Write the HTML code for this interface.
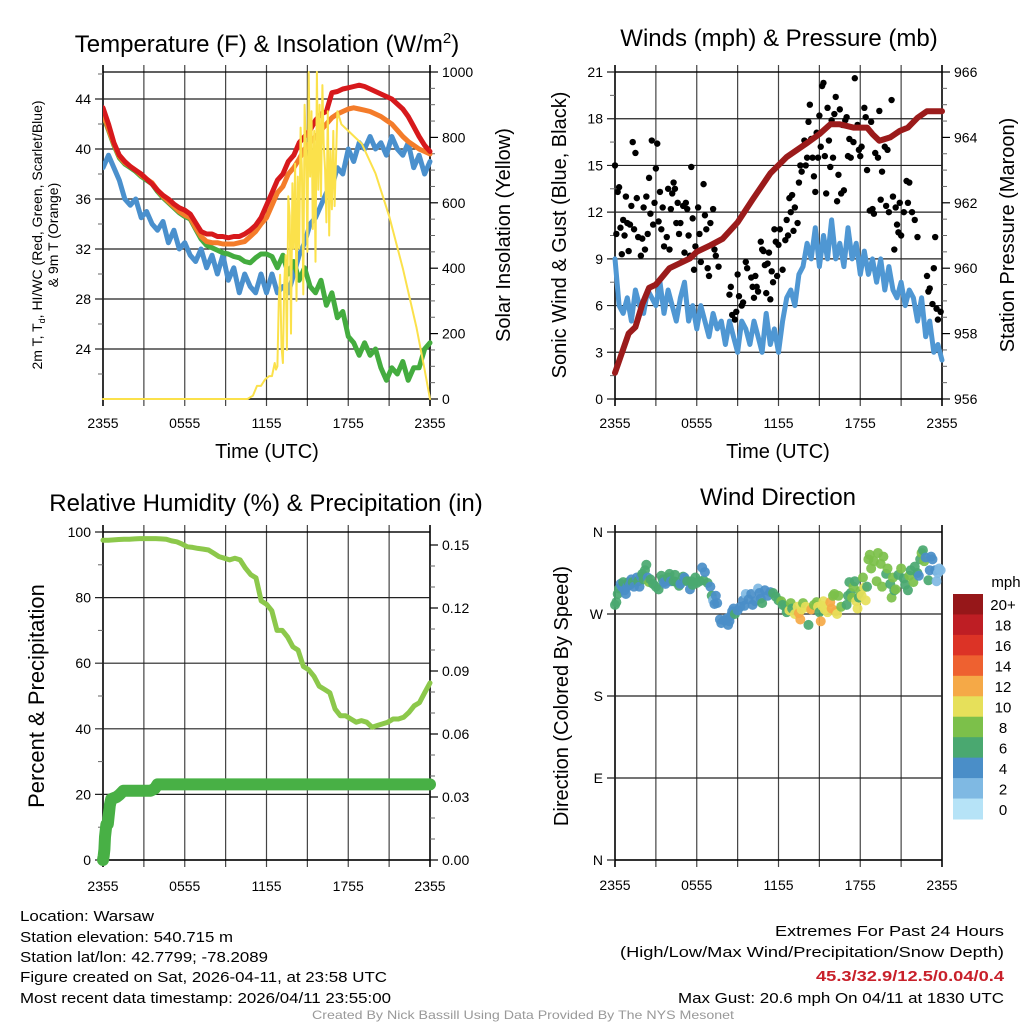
<!DOCTYPE html>
<html><head><meta charset="utf-8"><style>
html,body{margin:0;padding:0;background:#fff;}
svg{display:block;font-family:"Liberation Sans",sans-serif;}
</style></head><body>
<svg id="chart" width="1024" height="1024" viewBox="0 0 1024 1024" xmlns="http://www.w3.org/2000/svg">
<rect width="1024" height="1024" fill="#fff"/>
<g id="grids"></g>
<g id="marks"></g>
<g id="labels"></g>
<g font-size="24" text-anchor="middle" fill="#000">
<text x="267" y="52">Temperature (F) &amp; Insolation (W/m<tspan dy="-9" font-size="15">2</tspan><tspan dy="9">)</tspan></text>
<text x="779" y="46">Winds (mph) &amp; Pressure (mb)</text>
<text x="266" y="511">Relative Humidity (%) &amp; Precipitation (in)</text>
<text x="778" y="505">Wind Direction</text>
</g>
<g font-size="20" text-anchor="middle">
<text x="267" y="458">Time (UTC)</text>
<text x="778" y="458">Time (UTC)</text>
<text transform="translate(510,235) rotate(-90)">Solar Insolation (Yellow)</text>
<text transform="translate(566,235) rotate(-90)">Sonic Wind &amp; Gust (Blue, Black)</text>
<text transform="translate(1014,235) rotate(-90)">Station Pressure (Maroon)</text>
<text font-size="22" transform="translate(44,696) rotate(-90)">Percent &amp; Precipitation</text>
<text transform="translate(568,696) rotate(-90)">Direction (Colored By Speed)</text>
<text font-size="14" transform="translate(42,235) rotate(-90)">2m T, T<tspan font-size="9" dy="3">d</tspan><tspan dy="-3">, HI/WC (Red, Green, Scarlet/Blue)</tspan></text>
<text font-size="14" transform="translate(58,235) rotate(-90)">&amp; 9m T (Orange)</text>
</g>
<g font-size="15" fill="#000">
<text x="20" y="921" textLength="134" lengthAdjust="spacingAndGlyphs">Location: Warsaw</text>
<text x="20" y="942" textLength="213" lengthAdjust="spacingAndGlyphs">Station elevation: 540.715 m</text>
<text x="20" y="962" textLength="248" lengthAdjust="spacingAndGlyphs">Station lat/lon: 42.7799; -78.2089</text>
<text x="20" y="982" textLength="367" lengthAdjust="spacingAndGlyphs">Figure created on Sat, 2026-04-11, at 23:58 UTC</text>
<text x="20" y="1003" textLength="371" lengthAdjust="spacingAndGlyphs">Most recent data timestamp: 2026/04/11 23:55:00</text>
<text x="775" y="936" textLength="229" lengthAdjust="spacingAndGlyphs">Extremes For Past 24 Hours</text>
<text x="620" y="957" textLength="384" lengthAdjust="spacingAndGlyphs">(High/Low/Max Wind/Precipitation/Snow Depth)</text>
<text x="816" y="981" fill="#c8202a" font-weight="bold" textLength="188" lengthAdjust="spacingAndGlyphs">45.3/32.9/12.5/0.04/0.4</text>
<text x="678" y="1003" textLength="326" lengthAdjust="spacingAndGlyphs">Max Gust: 20.6 mph On 04/11 at 1830 UTC</text>
<text x="523" y="1019" text-anchor="middle" font-size="12" fill="#999" textLength="422" lengthAdjust="spacingAndGlyphs">Created By Nick Bassill Using Data Provided By The NYS Mesonet</text>
</g>
</svg>
<script>
// ---- data ----
const timeTickLabels = ["2355","0555","1155","1755","2355"];
const tempRed = [43.3,42,40.5,39.5,39,38.6,38.3,38,37.6,37.2,36.7,36.3,36,35.6,35.3,35.1,34.8,34.1,33.4,33.2,33.2,33,33,32.9,33,33,33.2,33.5,33.9,34.5,35.5,36.5,37.5,38,39,39.5,40.5,41,41.5,42.3,42.8,43,44.5,44.6,44.8,44.9,45,45.1,45,44.8,44.6,44.4,44.2,44,43.6,43.2,42.6,41.8,41,40.3,39.8];
const tempGreen = [42.7,41.5,40.3,39.3,38.8,38.5,38.2,37.8,37.5,37.2,36.6,36.1,35.7,35.3,34.9,34.6,34.4,33.6,32.8,32.3,32.1,31.9,31.7,31.6,31.4,31.3,31.0,30.9,31.3,31.6,31.6,31.4,30.5,31.5,30,31,29.5,30.5,29,28.5,29.5,27.5,28.5,26.5,27,25,24.5,23.5,24.5,23.5,24,22.5,21.5,22.5,22,23,21.5,22.5,22.5,24,24.5];
const tempOrange = [42.8,41.6,40.4,39.4,38.9,38.6,38.3,37.9,37.6,37.3,36.7,36.2,35.8,35.4,35,34.7,34.5,33.7,33,32.6,32.5,32.5,32.4,32.4,32.4,32.5,32.6,33,33.4,34,34.5,35.5,36.5,37,38,38.5,39.2,40,40.5,41,41.5,42,42.5,42.8,43,43.2,43.3,43.2,43.1,43,42.8,42.6,42.3,42,41.5,41,40.6,40.3,40,39.8,39.6];
const tempBlue = [38.5,39.5,38.5,37.5,36,35.5,36,34.5,35,34,33.5,34.2,32.5,33.5,32,32.5,31.5,31,32,30.5,31.5,30,31.5,29.5,30.5,28.5,30,29,28.5,30,28.5,30,28.5,29,28.5,30,31.5,32.5,34,34.5,35.5,36.5,37,38.5,38,40,39,40.5,40,41,40,40.5,39.5,41,40,39.5,40.5,38.5,39.5,38,39];
const solarTimes = [0,10.6,11,11.3,11.6,11.9,12.2,12.4,12.6,12.7,12.8,12.9,13.0,13.1,13.2,13.3,13.4,13.5,13.6,13.7,13.8,13.9,14.0,14.1,14.2,14.3,14.4,14.5,14.6,14.7,14.8,14.9,15.0,15.1,15.2,15.3,15.4,15.5,15.6,15.7,15.8,15.9,16.0,16.1,16.2,16.3,16.4,16.5,16.6,16.7,16.8,16.9,17.0,17.2,17.5,18,19,20,21,22,23,23.6,24];
const solarValues = [0,0,10,40,40,60,70,70,110,90,100,300,380,160,110,350,440,150,620,560,200,660,460,720,300,680,460,830,700,320,900,760,450,1000,680,880,520,820,420,1000,640,900,620,960,780,700,540,880,500,760,580,820,590,880,840,820,780,690,560,400,220,90,0];
const windSpeed = [9,6,5.5,6.5,5,7,6,5.5,7,6.5,6,7.5,5.5,7,6,5,6.5,7.5,5,6,4.5,6,5,4,5.5,4.5,5,3.5,5,4,3,5,4.5,3.5,5,4,3,5.5,3.5,4.5,3,5,6.5,7,6,8,8.5,10,9,11,8.5,10.5,9,11.5,9,10,8.5,11,9,10,8,9.5,8,9,7.5,9,7,8.5,7,6.5,7.5,6,7,6.5,5,6.5,4,5,3,3.5,2.5];
const gustPoints = [[0,15],[0.1,10.6],[0.2,13.3],[0.3,13.6],[0.4,11],[0.5,9.3],[0.6,11.5],[0.7,10.5],[0.8,13],[0.9,11.3],[1.0,9.5],[1.1,11.2],[1.2,12.4],[1.3,16.5],[1.4,10.9],[1.5,15.8],[1.6,12.9],[1.7,10.4],[1.9,9.2],[2.0,10.3],[2.1,12.3],[2.2,9.6],[2.3,13],[2.4,10.6],[2.5,14.2],[2.6,11.9],[2.7,16.6],[2.8,11.2],[2.9,12.6],[3.0,14.8],[3.1,16.4],[3.2,11.4],[3.3,13.3],[3.4,10.9],[3.5,12.3],[3.6,9.8],[3.8,10.4],[3.9,13.5],[4.0,9.6],[4.1,12.2],[4.2,13.2],[4.3,13.9],[4.4,13.5],[4.5,11.3],[4.6,12.6],[4.7,10.6],[4.8,11.3],[5.0,12.4],[5.1,9.4],[5.2,12.6],[5.3,12.2],[5.4,10.5],[5.5,9.2],[5.6,14.9],[5.7,11.6],[5.8,8.3],[5.9,9.8],[6.1,12.3],[6.2,10.6],[6.3,8.8],[6.5,13.8],[6.6,11.8],[6.7,10.9],[6.8,8.4],[6.9,7.9],[7.0,11.3],[7.2,12.2],[7.3,9.6],[7.4,9.2],[7.6,8.5],[8.4,6.7],[8.5,7.2],[8.6,5.4],[8.8,5.1],[8.9,5.6],[9.0,8],[9.1,6.6],[9.3,6],[9.4,6.2],[9.6,8.8],[9.7,8.4],[10.0,7.8],[10.1,7.2],[10.2,6.5],[10.3,7.9],[10.4,7.2],[10.5,6.9],[10.7,10.1],[10.8,9.6],[10.9,9.5],[11.0,8.6],[11.1,6.8],[11.2,8.7],[11.3,9.4],[11.4,6.4],[11.5,8.2],[11.6,7.5],[11.7,10.9],[11.8,10.1],[11.9,7.9],[12.0,9.9],[12.1,10.9],[12.3,8.3],[12.5,10.2],[12.6,11.5],[12.7,10.5],[12.8,12.9],[12.9,12],[13.0,13.1],[13.1,10.8],[13.2,12.3],[13.4,11.3],[13.5,13.9],[13.6,15],[13.7,14.6],[13.9,16.6],[14.0,15],[14.1,15.5],[14.2,17.8],[14.3,18.9],[14.4,16.7],[14.5,15.5],[14.6,14.3],[14.7,13.3],[14.8,17.1],[14.9,15.5],[15.0,18.2],[15.1,16.2],[15.2,20.1],[15.3,20.3],[15.4,15.6],[15.5,13.2],[15.6,18.7],[15.7,16.6],[15.8,14.9],[15.9,17.9],[16.0,15.5],[16.1,18.3],[16.2,19.4],[16.3,12.7],[16.4,14.4],[16.5,18.6],[16.6,13.2],[16.7,17.6],[16.8,13.4],[16.9,17.9],[17.0,18.1],[17.1,15.6],[17.2,16.7],[17.3,15.5],[17.5,16.5],[17.6,20.6],[17.8,17.6],[17.9,16],[18.0,15.6],[18.1,16.2],[18.3,18.7],[18.4,18.1],[18.5,14.7],[18.7,12.1],[18.8,17.8],[18.9,12.2],[19.0,11.9],[19.1,15.8],[19.3,15.5],[19.4,18.5],[19.5,12.8],[19.6,14.6],[19.8,16.2],[19.9,12.4],[20.0,16],[20.1,12],[20.3,19.2],[20.4,13],[20.5,9.6],[20.6,12.3],[20.7,11.2],[20.8,10.7],[20.9,12.6],[21.0,10.5],[21.2,12],[21.4,14],[21.5,12.6],[21.6,13.9],[21.8,12],[22.0,11.5],[22.2,10.4],[22.9,7.9],[23.0,6.9],[23.1,7.1],[23.3,6.1],[23.4,8.4],[23.5,10.4],[23.6,5.8],[23.7,5.1],[23.9,5.6]];
const pressureTimes = [0,0.5,1,1.5,2,2.5,3,4,5,5.5,6,7,7.9,9,10.1,11.4,12.6,14,15,15.8,16.5,17.5,18.5,18.9,19.4,20.2,20.9,21.5,22.2,22.9,23.5,24];
const pressureValues = [956.8,957.4,958.0,958.2,958.9,959.4,959.5,960.0,960.2,960.3,960.5,960.7,960.9,961.4,962.1,962.9,963.4,963.8,964.1,964.4,964.4,964.3,964.3,964.1,963.9,964.0,964.2,964.3,964.6,964.8,964.8,964.8];
const rhValues = [97.5,97.5,97.6,97.7,97.8,97.8,97.9,98,98,98,98,97.9,97.8,97.3,97,96.3,95.5,95.3,95,94.8,94.5,93.5,92.5,92,91.5,92,91.5,89,87,86,79,78,76,70,70,68,65,64,59,58,56,53,52,51,46,44,44,43,42,42.5,42,40.5,41,41.5,42,43,43,43.5,45,47,48,51,54];
const precipTimes = [0,0.05,0.1,0.15,0.25,0.35,0.5,0.6,1.0,1.2,1.5,3.5,3.8,4.0,24];
const precipValues = [0,0.002,0.005,0.011,0.017,0.017,0.026,0.029,0.030,0.031,0.033,0.033,0.034,0.036,0.036];
const dirPoints = [[0,280,7],[0.1,283,7],[0.2,292,6],[0.3,298,6],[0.4,303,4],[0.5,300,5],[0.6,305,6],[0.7,296,4],[0.8,292,4],[0.9,300,5],[1.0,305,6],[1.1,302,5],[1.2,308,5],[1.3,305,6],[1.4,300,4],[1.6,310,5],[1.7,306,6],[1.8,300,4],[1.9,311,5],[2.0,314,6],[2.1,308,7],[2.2,318,7],[2.3,324,7],[2.4,310,4],[2.5,305,8],[2.6,308,7],[2.8,303,6],[3.0,300,6],[3.2,297,6],[3.4,312,6],[3.5,308,6],[3.6,305,4],[3.7,303,4],[3.9,310,6],[4.0,314,6],[4.1,306,4],[4.3,306,6],[4.4,313,6],[4.5,305,6],[4.7,301,6],[4.8,303,5],[5.0,311,6],[5.1,310,4],[5.2,307,4],[5.3,306,6],[5.5,297,4],[5.6,306,6],[5.7,302,6],[5.9,310,6],[6.0,304,6],[6.2,306,7],[6.4,321,4],[6.5,307,6],[6.6,316,4],[6.8,304,6],[7.0,300,4],[7.1,290,6],[7.2,285,2],[7.3,281,4],[7.4,290,4],[7.5,282,4],[7.7,264,4],[7.8,260,4],[8.0,263,4],[8.2,265,4],[8.3,258,4],[8.4,262,4],[8.5,268,4],[8.6,273,4],[8.7,276,4],[8.8,270,6],[9.0,274,4],[9.2,278,4],[9.4,285,4],[9.5,279,4],[9.6,292,2],[9.8,286,4],[10.0,292,4],[10.1,280,4],[10.3,284,4],[10.5,298,2],[10.6,293,4],[10.7,287,4],[10.8,282,6],[11.0,296,4],[11.2,290,4],[11.4,294,4],[11.6,293,6],[11.8,289,6],[12.0,285,6],[12.2,284,8],[12.3,280,7],[12.5,278,6],[12.6,272,6],[12.8,274,10],[12.9,282,8],[13.0,276,7],[13.2,270,10],[13.4,278,10],[13.5,271,13],[13.6,264,12],[13.7,275,11],[13.8,282,8],[14.0,278,10],[14.2,258,6],[14.3,276,10],[14.4,275,12],[14.6,280,8],[14.8,283,8],[14.9,278,10],[15.0,272,6],[15.1,262,12],[15.2,279,10],[15.3,284,11],[15.4,275,10],[15.6,272,10],[15.8,283,12],[15.9,276,13],[16.0,290,8],[16.1,292,8],[16.2,273,12],[16.3,270,10],[16.4,290,8],[16.6,278,8],[17.0,280,6],[17.1,290,6],[17.2,305,7],[17.3,293,6],[17.4,288,8],[17.5,300,8],[17.6,306,6],[17.7,284,10],[17.8,276,10],[17.9,288,7],[18.0,295,8],[18.1,290,10],[18.2,310,8],[18.3,299,10],[18.4,285,10],[18.5,300,7],[18.6,330,8],[18.7,335,8],[18.8,320,8],[19.0,328,8],[19.2,306,8],[19.3,337,8],[19.5,325,8],[19.6,300,8],[19.7,333,8],[19.9,314,7],[20.0,320,8],[20.2,303,7],[20.3,288,8],[20.4,310,8],[20.5,296,7],[20.6,297,8],[20.8,313,6],[21.0,320,8],[21.2,309,6],[21.3,302,6],[21.5,296,7],[21.6,312,8],[21.7,318,6],[21.9,305,8],[22.0,322,6],[22.2,315,6],[22.3,312,4],[22.4,330,6],[22.5,337,8],[22.6,340,7],[22.7,328,8],[22.8,332,4],[23.0,307,6],[23.1,318,4],[23.2,333,4],[23.3,330,4],[23.5,318,4],[23.6,306,2],[23.7,315,2],[23.8,320,2],[23.9,318,2]];
const speedColors = ["#b6e3f7","#7fb9e3","#4a8ec8","#4aa870","#7cc04a","#e6e05a","#f5a947","#ee6130","#dc3326","#be1e24","#961719"];
const speedLabels = ["0","2","4","6","8","10","12","14","16","18","20+"];

// ---- helpers ----
const NS = "http://www.w3.org/2000/svg";
function mk(tag, attrs, parent){const e=document.createElementNS(NS,tag);for(const k in attrs)e.setAttribute(k,attrs[k]);parent.appendChild(e);return e;}
const G = document.getElementById('grids'), M = document.getElementById('marks'), L = document.getElementById('labels');
const P = {
  temp:{x0:103,x1:430,y0:72,y1:399,lab:29},
  wind:{x0:615,x1:942,y0:72,y1:399,lab:29},
  rh:{x0:103,x1:430,y0:532,y1:860,lab:31},
  dir:{x0:615,x1:942,y0:532,y1:860,lab:30}
};
function sx(p,t){return p.x0+(p.x1-p.x0)*t/24;}
function lin(p,lo,hi){return v=>p.y1-(p.y1-p.y0)*(v-lo)/(hi-lo);}
const tY = lin(P.temp,20,46.16), sY = lin(P.temp,0,1000), wY = lin(P.wind,0,21), pY = lin(P.wind,956,966);
const rY = lin(P.rh,0,100), prY = lin(P.rh,0,0.15*(328/315)), dY = lin(P.dir,0,360);

function frame(p,name,hTicks,yfn,labels){
  const g = mk('g',{},G);
  
  
  for(let i=0;i<=8;i++){
    const x=sx(p,i*3);
    mk('line',{x1:x,x2:x,y1:p.y0-7,y2:p.y1+7,stroke:(i==0||i==8)?'#000':'#444','stroke-width':(i==0||i==8)?1.6:1.2},g);
  }
  hTicks.forEach((v,i)=>{
    const y=yfn(v);
    mk('line',{x1:p.x0-8,x2:p.x1,y1:y,y2:y,stroke:'#222','stroke-width':1.2},g);
    const t=mk('text',{x:p.x0-12,y:y+5,'text-anchor':'end','font-size':14},L);
    t.textContent=labels[i];
    
    
  });
  mk('line',{x1:p.x0,x2:p.x1,y1:p.y1,y2:p.y1,stroke:'#000','stroke-width':1.6},g);
  mk('line',{x1:p.x0,x2:p.x1,y1:p.y0,y2:p.y0,stroke:'#000','stroke-width':1.2},g);
  timeTickLabels.forEach((lab,i)=>{
    const t=mk('text',{x:sx(p,i*6),y:p.y1+p.lab,'text-anchor':'middle','font-size':14},L);
    t.textContent=lab;
    
    
  });
}
function rightAxis(p,name,vals,yfn,labels,minorVals){
  const g=mk('g',{},G);
  
  
  vals.forEach((v,i)=>{
    const y=yfn(v);
    mk('line',{x1:p.x1,x2:p.x1+8,y1:y,y2:y,stroke:'#000','stroke-width':1.2},g);
    const t=mk('text',{x:p.x1+12,y:y+5,'font-size':14},L);
    t.textContent=labels[i];
    
    
  });
  (minorVals||[]).forEach(v=>{const y=yfn(v);mk('line',{x1:p.x1,x2:p.x1+5,y1:y,y2:y,stroke:'#666','stroke-width':1},g);});
}
function minorLeft(p,vals,yfn){vals.forEach(v=>{const y=yfn(v);mk('line',{x1:p.x0-5,x2:p.x0,y1:y,y2:y,stroke:'#666','stroke-width':1},G);});}
function poly(pts,color,w,name,parent){
  const e=mk('polyline',{points:pts.map(q=>q[0].toFixed(1)+','+q[1].toFixed(1)).join(' '),fill:'none',stroke:color,'stroke-width':w,'stroke-linejoin':'round','stroke-linecap':'round'},parent||M);
  
  
  return e;
}
function uniform(p,arr,yfn){return arr.map((v,i)=>[sx(p,i*24/(arr.length-1)),yfn(v)]);}

// ---- panel 1: temperature ----
frame(P.temp,'temp',[24,28,32,36,40,44],tY,["24","28","32","36","40","44"]);
minorLeft(P.temp,[22,26,30,34,38,42,46],tY);
rightAxis(P.temp,'solar',[0,200,400,600,800,1000],sY,["0","200","400","600","800","1000"],[50,100,150,250,300,350,450,500,550,650,700,750,850,900,950]);
const clipT=mk('clipPath',{id:'clipTemp'},M);mk('rect',{x:P.temp.x0,y:P.temp.y0-4,width:P.temp.x1-P.temp.x0+6,height:P.temp.y1-P.temp.y0+4},clipT);
const gT=mk('g',{'clip-path':'url(#clipTemp)'},M);
poly(uniform(P.temp,tempBlue,tY),'#4a90cd',5,'series-wind-chill',gT);
poly(uniform(P.temp,tempGreen,tY),'#44ac3f',5,'series-dewpoint',gT);
poly(uniform(P.temp,tempOrange,tY),'#f47c2a',5,'series-9m-temperature',gT);
poly(uniform(P.temp,tempRed,tY),'#d7191c',5,'series-2m-temperature',gT);
poly(solarTimes.map((t,i)=>[sx(P.temp,t),sY(solarValues[i])]),'#fbe14b',2,'series-solar-insolation',M);

// ---- panel 2: wind & pressure ----
frame(P.wind,'wind',[0,3,6,9,12,15,18,21],wY,["0","3","6","9","12","15","18","21"]);
minorLeft(P.wind,[1.5,4.5,7.5,10.5,13.5,16.5,19.5],wY);
rightAxis(P.wind,'pressure',[956,958,960,962,964,966],pY,["956","958","960","962","964","966"],[956.5,957,957.5,958.5,959,959.5,960.5,961,961.5,962.5,963,963.5,964.5,965,965.5]);
poly(uniform(P.wind,windSpeed,wY),'#4f97d3',5,'series-sonic-wind');
gustPoints.forEach(q=>{
  const c=mk('circle',{cx:sx(P.wind,q[0]),cy:wY(q[1]),r:3.2,fill:'#000'},M);
  
  
});
poly(pressureTimes.map((t,i)=>[sx(P.wind,t),pY(pressureValues[i])]),'#9b1b1b',6,'series-station-pressure');

// ---- panel 3: RH & precip ----
frame(P.rh,'humidity',[0,20,40,60,80,100],rY,["0","20","40","60","80","100"]);
minorLeft(P.rh,[10,30,50,70,90],rY);
rightAxis(P.rh,'precip',[0,0.03,0.06,0.09,0.12,0.15],prY,["0.00","0.03","0.06","0.09","0.12","0.15"],[0.01,0.02,0.04,0.05,0.07,0.08,0.1,0.11,0.13,0.14]);
poly(uniform(P.rh,rhValues,rY),'#8cc84b',5,'series-relative-humidity');
poly(precipTimes.map((t,i)=>[sx(P.rh,t),prY(precipValues[i])]),'#48b045',12,'series-precipitation');

// ---- panel 4: wind direction ----
frame(P.dir,'direction',[0,90,180,270,360],dY,["N","E","S","W","N"]);
dirPoints.forEach(q=>{
  const bin=Math.min(10,Math.floor(q[2]/2));
  const c=mk('circle',{cx:sx(P.dir,q[0]),cy:dY(q[1]),r:5,fill:speedColors[bin],'fill-opacity':0.92},M);
  
  
});
// colorbar
const cb=mk('g',{},M);


const cbTop=594, cbH=225/speedColors.length;
speedColors.slice().reverse().forEach((col,i)=>{
  const r=mk('rect',{x:953,y:cbTop+i*cbH,width:30,height:cbH+0.5,fill:col},cb);
  
  
  const t=mk('text',{x:1003,y:cbTop+i*cbH+cbH/2+6,'text-anchor':'middle','font-size':15},cb);
  t.textContent=speedLabels[speedLabels.length-1-i];
  
  
});
const mph=mk('text',{x:1006,y:587,'text-anchor':'middle','font-size':15},cb);
mph.textContent='mph';


</script>
</body></html>
